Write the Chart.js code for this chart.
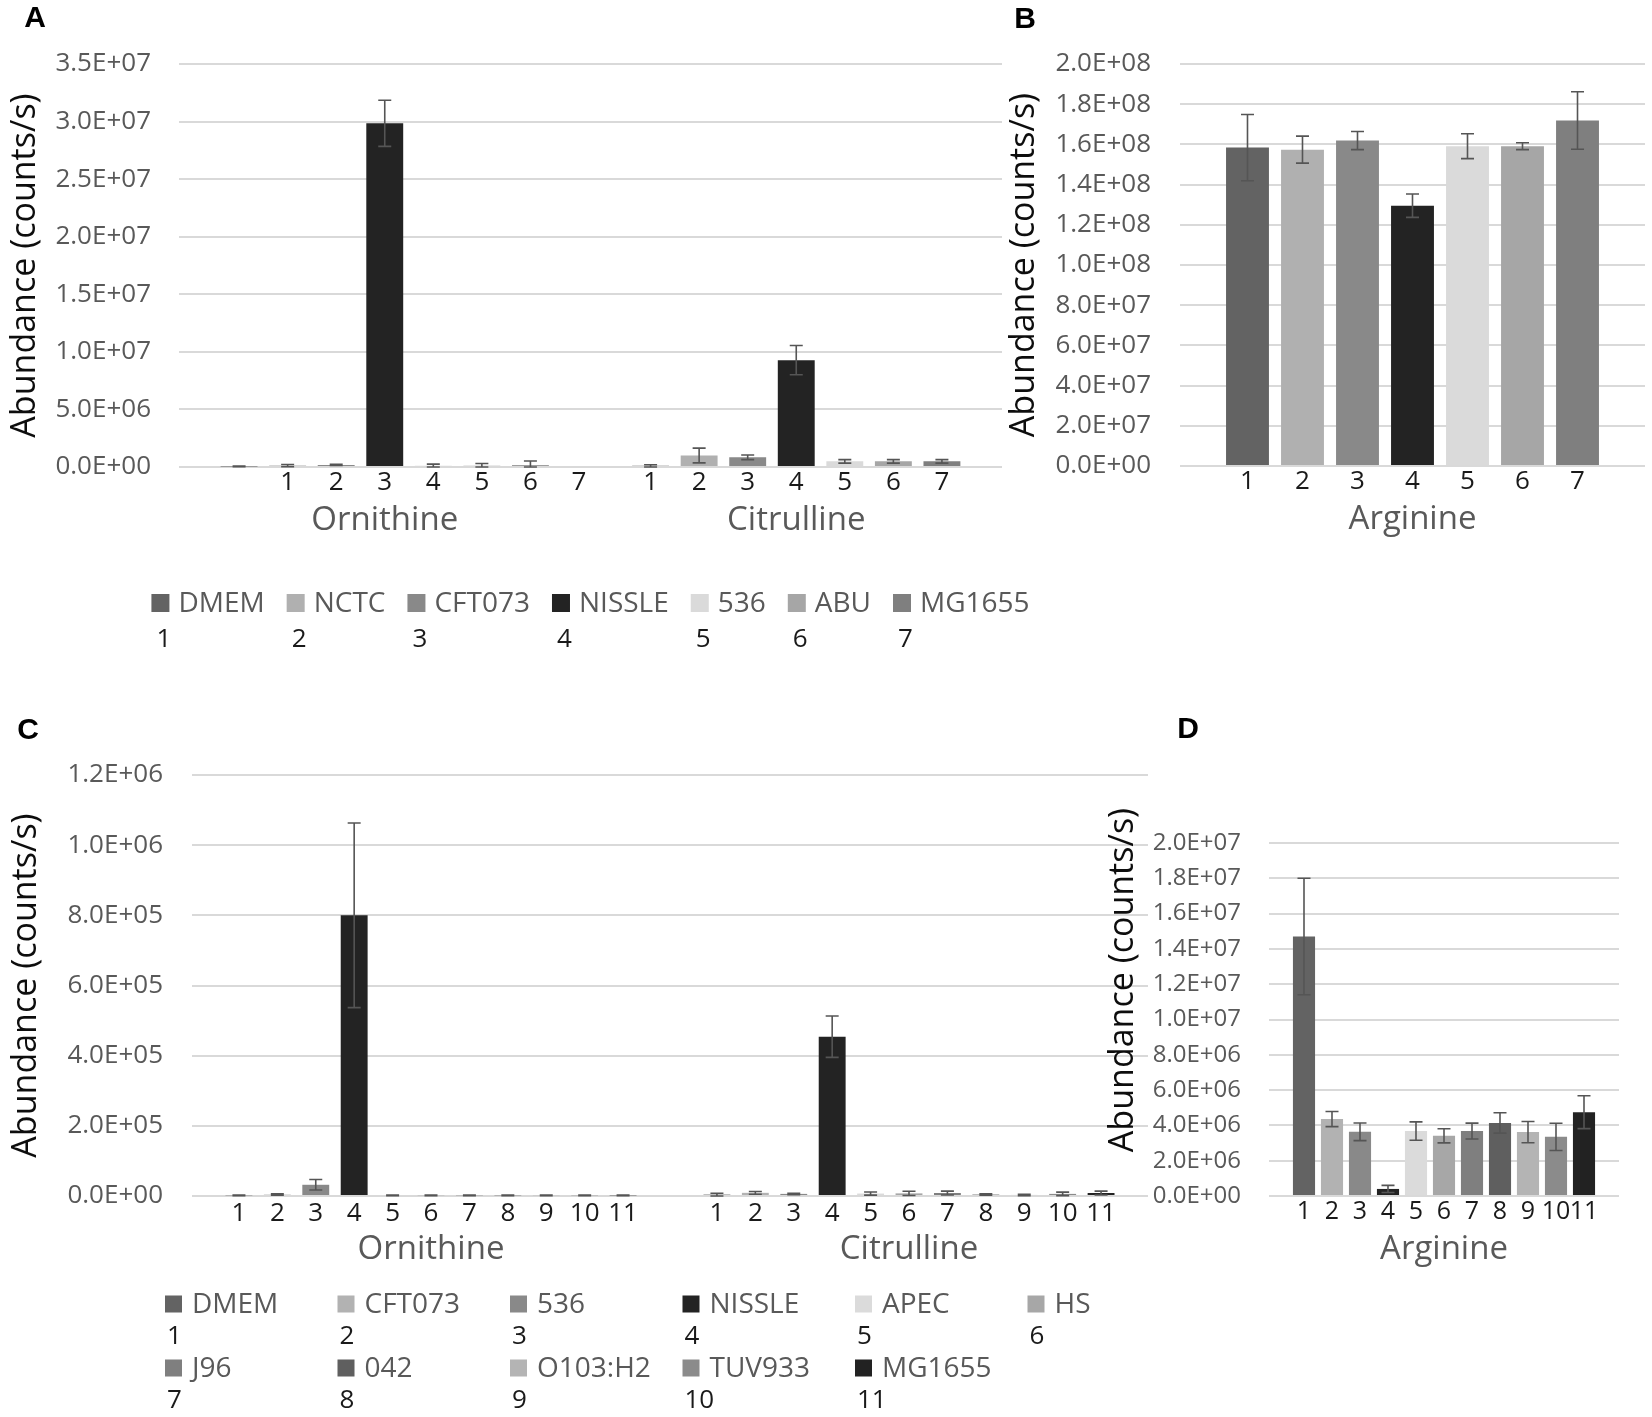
<!DOCTYPE html>
<html>
<head>
<meta charset="utf-8">
<script src="https://cdn.jsdelivr.net/npm/chart.js"></script>
<style>
  body { margin: 0; background: #fff; }
  #page { position: relative; width: 1652px; height: 1417px; overflow: hidden; background: #fff; }
  #page canvas { position: absolute; }
</style>
</head>
<body>
<div id="page">
  <canvas id="chartA" width="1100" height="680" style="left:0;top:0"></canvas>
  <canvas id="chartB" width="712" height="560" style="left:940px;top:0"></canvas>
  <canvas id="chartC" width="1150" height="717" style="left:0;top:700px"></canvas>
  <canvas id="chartD" width="552" height="600" style="left:1100px;top:700px"></canvas>
</div>
<script>
// ---- Datos panel A / B (cepas 1-7) ----
const abCategories = ['Ornithine', 'Citrulline'];
const abStrains = ['DMEM', 'NCTC', 'CFT073', 'NISSLE', '536', 'ABU', 'MG1655'];
const abColors = ['#636363', '#b0b0b0', '#898989', '#232323', '#dadada', '#a6a6a6', '#7f7f7f'];
// [Ornithine, Citrulline] por cepa
const aValues = [
    [0.05e6, 0.10e6],
    [0.12e6, 1.00e6],
    [0.18e6, 0.84e6],
    [29.85e6, 9.28e6],
    [0.10e6, 0.49e6],
    [0.10e6, 0.49e6],
    [0.15e6, 0.49e6]
];
const aErrors = [
    [0.03e6, 0.10e6],
    [0.10e6, 0.64e6],
    [0.05e6, 0.20e6],
    [2.00e6, 1.27e6],
    [0.15e6, 0.15e6],
    [0.20e6, 0.15e6],
    [0.37e6, 0.15e6]
];
// los numeros bajo Ornithine estan corridos una posicion en el original
const aNumberShift = [1, 0];

const bCategories = ['Arginine'];
const bValues = [158.4e6, 157.4e6, 161.9e6, 129.5e6, 159.1e6, 159.1e6, 171.9e6];
const bErrors = [16.5e6, 6.7e6, 4.5e6, 5.8e6, 6.2e6, 1.7e6, 14.3e6];

// ---- Datos panel C / D (cepas 1-11) ----
const cdStrains = ['DMEM', 'CFT073', '536', 'NISSLE', 'APEC', 'HS', 'J96', '042', 'O103:H2', 'TUV933', 'MG1655'];
const cdColors = ['#636363', '#b2b2b2', '#898989', '#232323', '#dbdbdb', '#a7a7a7', '#7f7f7f', '#5f5f5f', '#b4b4b4', '#8b8b8b', '#222222'];
const cValues = [
    [2000, 4000],
    [4000, 9000],
    [32000, 6000],
    [800000, 454000],
    [2000, 7000],
    [2000, 7500],
    [2000, 8500],
    [2000, 4000],
    [2000, 3000],
    [2000, 6000],
    [2000, 8500]
];
const cErrors = [
    [1000, 4000],
    [2000, 4000],
    [15000, 2000],
    [263000, 59000],
    [1000, 4500],
    [1000, 6000],
    [1000, 5500],
    [1000, 2000],
    [1000, 2000],
    [1000, 5000],
    [1000, 5500]
];

const dCategories = ['Arginine'];
const dValues = [14.7e6, 4.36e6, 3.64e6, 0.40e6, 3.68e6, 3.41e6, 3.68e6, 4.14e6, 3.62e6, 3.35e6, 4.75e6];
const dErrors = [3.3e6, 0.43e6, 0.5e6, 0.2e6, 0.52e6, 0.4e6, 0.45e6, 0.58e6, 0.6e6, 0.77e6, 0.93e6];

const FONT = "'Open Sans', 'Noto Sans', sans-serif";
const GRAY = '#595959';

// Formato tipo Excel: 3.5E+07
function sci(v) {
    const parts = Number(v).toExponential(1).split('e');
    const ex = parseInt(parts[1], 10);
    return parts[0] + 'E' + (ex < 0 ? '-' : '+') + String(Math.abs(ex)).padStart(2, '0');
}

// Barras de error (media +/- desviacion)
const errorBars = {
    id: 'errorBars',
    afterDatasetsDraw(chart, args, opts) {
        const ctx = chart.ctx;
        const y = chart.scales.y;
        ctx.save();
        ctx.strokeStyle = opts.color || '#555';
        ctx.lineWidth = opts.width || 1.5;
        chart.data.datasets.forEach((ds, i) => {
            chart.getDatasetMeta(i).data.forEach((bar, j) => {
                const v = ds.data[j], e = ds.errors[j];
                const top = y.getPixelForValue(v + e);
                const bot = y.getPixelForValue(Math.max(v - e, 0));
                const w = opts.cap || 6;
                ctx.beginPath();
                ctx.moveTo(bar.x, top); ctx.lineTo(bar.x, bot);
                ctx.moveTo(bar.x - w, top); ctx.lineTo(bar.x + w, top);
                ctx.moveTo(bar.x - w, bot); ctx.lineTo(bar.x + w, bot);
                ctx.stroke();
            });
        });
        ctx.restore();
    }
};

// Numeros 1..n debajo de cada grupo de barras
const barNumbers = {
    id: 'barNumbers',
    afterDatasetsDraw(chart, args, opts) {
        const ctx = chart.ctx;
        const n = chart.data.datasets.length;
        ctx.save();
        ctx.font = opts.font;
        ctx.fillStyle = opts.color;
        ctx.textAlign = 'center';
        ctx.textBaseline = 'middle';
        const yy = chart.chartArea.bottom + opts.offset;
        chart.data.labels.forEach((lab, j) => {
            const xs = chart.data.datasets.map((ds, i) => chart.getDatasetMeta(i).data[j].x);
            const step = n > 1 ? xs[1] - xs[0] : 0;
            const shift = (opts.shift || [])[j] || 0;
            for (let k = 0; k < n; k++) {
                ctx.fillText(String(k + 1), xs[0] + (k + shift) * step, yy);
            }
        });
        ctx.restore();
    }
};

// Leyenda con numero debajo de cada entrada
const numberedLegend = {
    id: 'numberedLegend',
    afterDraw(chart, args, opts) {
        if (!opts.display) return;
        const ctx = chart.ctx;
        const items = chart.data.datasets.map(ds => ({ label: ds.label, color: ds.backgroundColor }));
        ctx.save();
        ctx.font = opts.font;
        const box = opts.box;
        let positions = [];
        if (opts.mode === 'flow') {
            const widths = items.map(it => box + opts.textGap + ctx.measureText(it.label).width);
            const total = widths.reduce((a, b) => a + b, 0) + opts.itemGap * (items.length - 1);
            let x = (chart.chartArea.left + chart.chartArea.right) / 2 - total / 2;
            widths.forEach(w => { positions.push({ x: x, y: opts.y }); x += w + opts.itemGap; });
        } else {
            items.forEach((it, i) => {
                positions.push({ x: opts.left + (i % opts.columns) * opts.colWidth, y: opts.rows[Math.floor(i / opts.columns)] });
            });
        }
        items.forEach((it, i) => {
            const p = positions[i];
            ctx.fillStyle = it.color;
            ctx.fillRect(p.x, p.y - box / 2, box, box);
            ctx.font = opts.font;
            ctx.fillStyle = GRAY;
            ctx.textAlign = 'left';
            ctx.textBaseline = 'middle';
            ctx.fillText(it.label, p.x + box + opts.textGap, p.y + 1);
            ctx.font = opts.numberFont;
            ctx.fillStyle = '#1a1a1a';
            ctx.fillText(String(i + 1), p.x + opts.numberDx, p.y + opts.numberDy);
        });
        ctx.restore();
    }
};

// Letra del panel y titulos sueltos
const panelText = {
    id: 'panelText',
    afterDraw(chart, args, opts) {
        const ctx = chart.ctx;
        ctx.save();
        (opts.items || []).forEach(t => {
            ctx.save();
            ctx.translate(t.x, t.y);
            if (t.rotate) ctx.rotate(t.rotate);
            ctx.font = t.font;
            ctx.fillStyle = t.color || '#000';
            ctx.textAlign = 'center';
            ctx.textBaseline = 'middle';
            ctx.fillText(t.text, 0, 0);
            ctx.restore();
        });
        ctx.restore();
    }
};

function buildChart(canvasId, categories, strains, colors, values, errors, L) {
    const datasets = strains.map((s, i) => ({
        label: s,
        data: Array.isArray(values[i]) ? values[i] : [values[i]],
        errors: Array.isArray(errors[i]) ? errors[i] : [errors[i]],
        backgroundColor: colors[i],
        categoryPercentage: L.catPct,
        barPercentage: L.barPct
    }));

    return new Chart(document.getElementById(canvasId), {
        type: 'bar',
        data: { labels: categories, datasets: datasets },
        plugins: [errorBars, barNumbers, numberedLegend, panelText],
        options: {
            responsive: false,
            animation: false,
            devicePixelRatio: 1,
            layout: { padding: L.padding },
            plugins: {
                legend: { display: false },
                tooltip: { enabled: false },
                errorBars: { color: '#555555', width: 1.6, cap: 6.5 },
                barNumbers: { font: L.numberFont, color: '#1a1a1a', offset: L.numberOffset, shift: L.shift },
                numberedLegend: L.legend || { display: false },
                panelText: { items: L.texts }
            },
            scales: {
                x: {
                    grid: { display: false },
                    border: { display: false },
                    ticks: { font: { family: FONT, size: L.catSize }, color: GRAY, padding: 26 },
                    afterFit: s => { s.height = 80; }
                },
                y: {
                    min: 0,
                    max: L.max,
                    ticks: { stepSize: L.step, callback: sci, font: { family: FONT, size: L.tickSize }, color: GRAY, padding: L.tickPad },
                    grid: { color: '#d9d9d9', lineWidth: 2, drawTicks: false },
                    border: { display: false },
                    title: L.yTitle ? {
                        display: true,
                        text: 'Abundance (counts/s)',
                        font: { family: FONT, size: 34 },
                        color: '#0d0d0d',
                        padding: { top: L.yTitle, bottom: 0 }
                    } : { display: false },
                    afterFit: s => { s.width = L.yWidth; }
                }
            }
        }
    });
}

const bold = "bold 30px 'Liberation Sans', Arial, sans-serif";

buildChart('chartA', abCategories, abStrains, abColors, aValues, aErrors, {
    catPct: 0.826, barPct: 0.76,
    padding: { top: 64, right: 98, bottom: 133, left: 0 },
    yWidth: 179, yTitle: 5, max: 3.5e7, step: 5e6, tickSize: 26, tickPad: 28, catSize: 33,
    numberFont: `26px ${FONT}`, numberOffset: 16, shift: aNumberShift,
    legend: {
        display: true, mode: 'flow', y: 603, box: 18, textGap: 9, itemGap: 22,
        font: `28px ${FONT}`, numberFont: `26px ${FONT}`, numberDx: 5, numberDy: 37
    },
    texts: [{ text: 'A', x: 35, y: 19, font: bold }]
});

buildChart('chartB', bCategories, abStrains, abColors, bValues, bErrors, {
    catPct: 0.828, barPct: 0.78,
    padding: { top: 64, right: 7, bottom: 14, left: 0 },
    yWidth: 240, yTitle: 64, max: 2e8, step: 2e7, tickSize: 26, tickPad: 29, catSize: 33,
    numberFont: `26px ${FONT}`, numberOffset: 16,
    texts: [{ text: 'B', x: 85, y: 20, font: bold }]
});

buildChart('chartC', abCategories, cdStrains, cdColors, cValues, cErrors, {
    catPct: 0.884, barPct: 0.70,
    padding: { top: 75, right: 2, bottom: 141, left: 0 },
    yWidth: 192, yTitle: 6, max: 1.2e6, step: 2e5, tickSize: 26, tickPad: 29, catSize: 33,
    numberFont: `26px ${FONT}`, numberOffset: 18,
    legend: {
        display: true, mode: 'grid', columns: 6, left: 165, colWidth: 172.5, rows: [604, 668], box: 17, textGap: 10,
        font: `28px ${FONT}`, numberFont: `26px ${FONT}`, numberDx: 2, numberDy: 33
    },
    texts: [{ text: 'C', x: 28, y: 31, font: bold }]
});

buildChart('chartD', dCategories, cdStrains, cdColors, dValues, dErrors, {
    catPct: 0.88, barPct: 0.79,
    padding: { top: 143, right: 33, bottom: 24, left: 0 },
    yWidth: 169, yTitle: 0, max: 2e7, step: 2e6, tickSize: 24, tickPad: 28, catSize: 33,
    numberFont: `25px ${FONT}`, numberOffset: 16,
    texts: [
        { text: 'D', x: 88, y: 30, font: bold },
        { text: 'Abundance (counts/s)', x: 23, y: 280, rotate: -Math.PI / 2, font: `34px ${FONT}`, color: '#0d0d0d' }
    ]
});
</script>
</body>
</html>
